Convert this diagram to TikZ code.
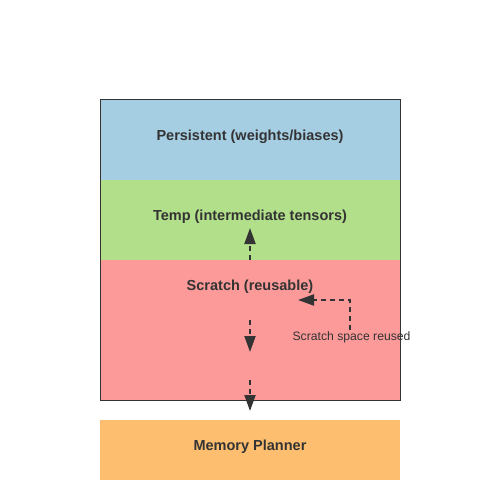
\documentclass[tikz,border=0pt]{standalone}
\usepackage{fontspec}
\setmainfont{Liberation Sans}
\usepackage{tikz}
\usetikzlibrary{arrows.meta}
\definecolor{persistblue}{HTML}{A6CEE3}
\definecolor{tempgreen}{HTML}{B2DF8A}
\definecolor{scratchred}{HTML}{FB9A99}
\definecolor{plannerorange}{HTML}{FDBF6F}
\definecolor{inkgray}{HTML}{333333}
\tikzset{
  band/.style={draw=none, minimum width=300pt, inner sep=0pt, outer sep=0pt},
  title/.style={font=\bfseries\fontsize{14.5}{16}\selectfont, text=inkgray},
  note/.style={font=\fontsize{12.2}{14}\selectfont, text=inkgray},
  flow/.style={draw=inkgray, line width=2pt, dash pattern=on 5pt off 4pt,
    -{Triangle[length=16pt,width=11pt]}}
}
\begin{document}
\begin{tikzpicture}[x=1pt,y=-1pt]
\useasboundingbox (0,0) rectangle (500,500);
\node[band, fill=persistblue, minimum height=80pt] (persist) at (250,140) {};
\node[band, fill=tempgreen, minimum height=80pt] (temp) at (250,220) {};
\node[band, fill=scratchred, minimum height=140pt] (scratch) at (250,330) {};
\node[band, fill=plannerorange, minimum height=60pt] (planner) at (250,450) {};
\draw[inkgray, line width=1pt] (persist.north west) rectangle (scratch.south east);
\node[title] (persistlbl) at (250,137) {Persistent (weights/biases)};
\node[title] (templbl) at (250,217) {Temp (intermediate tensors)};
\node[title] (scratchlbl) at (250,287) {Scratch (reusable)};
\node[title] (plannerlbl) at (250,447) {Memory Planner};
\node[note, anchor=west] (reusedlbl) at (289,337) {Scratch space reused};
% arrows
\coordinate (upstart) at (250,260);
\coordinate (upend) at (250,228);
\coordinate (midstart) at (250,320);
\coordinate (midend) at (250,352);
\coordinate (lowstart) at (250,380);
\coordinate (lowend) at (250,411);
\coordinate (loopstart) at (350,330);
\coordinate (loopend) at (298,300);
\draw[flow] (upstart) -- (upend);
\draw[flow] (midstart) -- (midend);
\draw[flow] (lowstart) -- (lowend);
\draw[flow] (loopstart) |- (loopend);
\end{tikzpicture}
\end{document}
